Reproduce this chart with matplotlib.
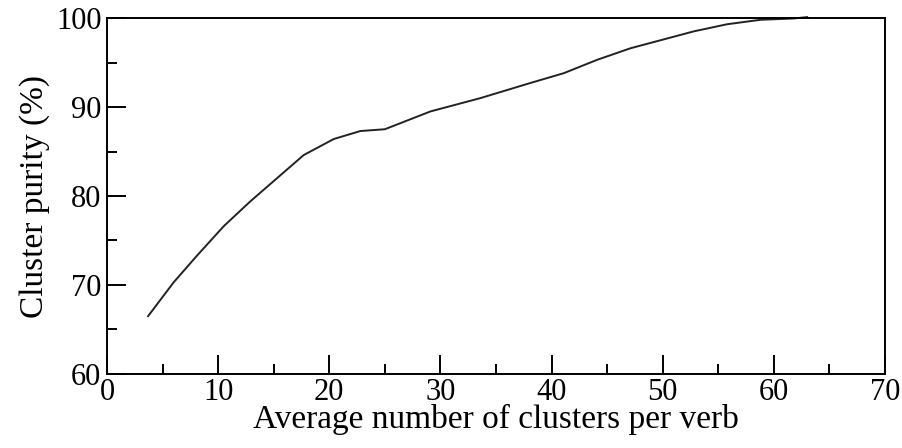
import matplotlib
matplotlib.use('Agg')
import matplotlib.pyplot as plt
from matplotlib.ticker import MultipleLocator

# values
clusters = [3.7, 6.0, 8.1, 10.5, 12.9, 15.3, 17.7, 20.4, 22.8, 25.0, 29.1,
            33.6, 38.1, 41.1, 44.1, 47.1, 49.8, 52.8, 55.8, 58.8, 61.8, 63.0]
purity = [66.5, 70.3, 73.3, 76.6, 79.4, 82.0, 84.6, 86.4, 87.3, 87.5, 89.5,
          91.0, 92.7, 93.8, 95.3, 96.6, 97.5, 98.5, 99.3, 99.8, 99.95, 100.1]

x_ticks = [0, 10, 20, 30, 40, 50, 60, 70]
y_ticks = [60, 70, 80, 90, 100]

plt.rcParams['font.family'] = ['Liberation Serif', 'DejaVu Serif']

fig = plt.figure(figsize=(9.02, 4.48), dpi=100)
ax = fig.add_axes([0.1186, 0.1652, 0.8625, 0.7946])

ax.plot(clusters, purity, color='#222222', linewidth=1.4, clip_on=False)

ax.set_xlim(0, 70)
ax.set_ylim(60, 100)
ax.set_xticks(x_ticks)
ax.set_yticks(y_ticks)
ax.xaxis.set_minor_locator(MultipleLocator(5))
ax.yaxis.set_minor_locator(MultipleLocator(5))
ax.tick_params(which='both', direction='in', top=False, right=False,
               width=1.4, labelsize=22)
ax.tick_params(axis='x', pad=3)
ax.tick_params(axis='y', pad=4)
ax.tick_params(which='major', length=14)
ax.tick_params(which='minor', length=7.5)
for s in ax.spines.values():
    s.set_linewidth(1.4)

ax.set_xlabel('Average number of clusters per verb', fontsize=24, labelpad=-2)
ax.set_ylabel('Cluster purity (%)', fontsize=24, labelpad=4)

fig.savefig('out.png', dpi=100)
